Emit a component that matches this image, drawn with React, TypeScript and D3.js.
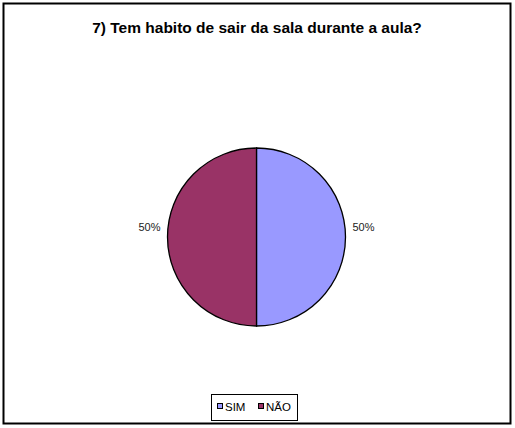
import * as d3 from "d3";
import { useRef, useEffect } from "react";

const categories = ["SIM", "NÃO"];
const values = [50, 50];
const colors = ["#9999FF", "#993366"];
const title = "7) Tem habito de sair da sala durante a aula?";

function App() {
  const svgRef = useRef<SVGSVGElement>(null);

  useEffect(() => {
    const RADIUS = 89;
    const cx = 256.5;
    const cy = 237;

    const svg = d3.select(svgRef.current).select("g.chart");
    svg.selectAll("*").remove();

    svg.append("text")
      .attr("x", 257).attr("y", 33)
      .attr("text-anchor", "middle")
      .attr("font-size", 15.5)
      .attr("font-weight", "bold")
      .text(title);

    const data = categories.map((c, i) => ({ name: c, value: values[i] }));
    const pieData = d3.pie<{ name: string; value: number }>()
      .sort(null)
      .value(d => d.value)(data);
    const arcGenerator = d3.arc<d3.PieArcDatum<{ name: string; value: number }>>()
      .innerRadius(0).outerRadius(RADIUS);
    const total = d3.sum(values);

    const g = svg.append("g").attr("transform", `translate(${cx}, ${cy})`);
    g.selectAll("path")
      .data(pieData)
      .join("path")
      .attr("d", arcGenerator)
      .attr("fill", (d, i) => colors[i])
      .attr("stroke", "black")
      .attr("stroke-width", 1.3);

    g.selectAll("text")
      .data(pieData)
      .join("text")
      .attr("x", d => {
        const mid = (d.startAngle + d.endAngle) / 2;
        return Math.sin(mid) >= 0 ? RADIUS + 7 : -RADIUS - 7;
      })
      .attr("y", -6)
      .attr("text-anchor", d => Math.sin((d.startAngle + d.endAngle) / 2) >= 0 ? "start" : "end")
      .attr("font-size", 11)
      .attr("fill", "#222")
      .text(d => `${Math.round(d.data.value / total * 100)}%`);

    // legenda
    const legend = svg.append("g");
    legend.append("rect")
      .attr("x", 211.5).attr("y", 394.5)
      .attr("width", 86).attr("height", 26)
      .attr("fill", "white")
      .attr("stroke", "black");
    const items = legend.selectAll("g.item")
      .data(categories)
      .join("g")
      .attr("class", "item")
      .attr("transform", (d, i) => `translate(${217 + i * 41}, 406)`);
    items.append("rect")
      .attr("x", 0.5).attr("y", -2.5)
      .attr("width", 5).attr("height", 5)
      .attr("fill", (d, i) => colors[i])
      .attr("stroke", "black");
    items.append("text")
      .attr("x", 8).attr("y", 4.5)
      .attr("font-size", 11.5)
      .text(d => d);
  }, []);

  return (
    <div style={{ position: "absolute", left: 0, top: 0 }}>
      <svg ref={svgRef} width={515} height={428}
        style={{ display: "block", fontFamily: "'Liberation Sans', Arial, sans-serif" }}>
        <rect x={3.5} y={3.5} width={507} height={420} fill="white" stroke="black" strokeWidth={2} />
        <g className="chart" />
      </svg>
    </div>
  );
}

export default App;
